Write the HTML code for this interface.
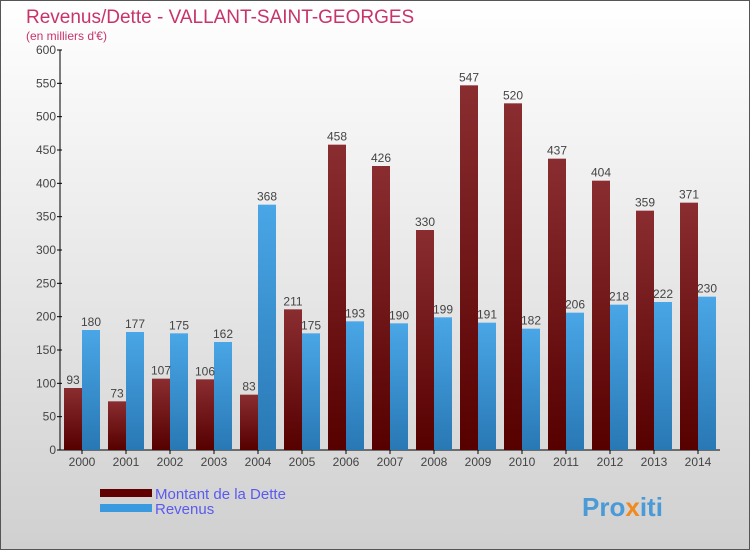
<!DOCTYPE html>
<html><head><meta charset="utf-8"><style>
body{margin:0}
svg{display:block;font-family:"Liberation Sans",sans-serif}
</style></head><body>
<svg width="750" height="550" viewBox="0 0 750 550">
<defs>
<linearGradient id="bg" x1="0" y1="0" x2="0" y2="1"><stop offset="0" stop-color="#ffffff"/><stop offset="1" stop-color="#d0d0d0"/></linearGradient>
<linearGradient id="gd" x1="0" y1="0" x2="0" y2="1"><stop offset="0" stop-color="#8a2d30"/><stop offset="1" stop-color="#560000"/></linearGradient>
<linearGradient id="gr" x1="0" y1="0" x2="0" y2="1"><stop offset="0" stop-color="#4aa6e6"/><stop offset="1" stop-color="#2878b4"/></linearGradient>
</defs>
<rect x="0.5" y="0.5" width="749" height="549" fill="url(#bg)" stroke="#555"/>
<text x="26" y="23" font-size="19" fill="#c8336a">Revenus/Dette - VALLANT-SAINT-GEORGES</text>
<text x="26" y="40" font-size="12" fill="#c8336a">(en milliers d'€)</text>
<g id="axes"></g>
<g id="bars"></g>
<g>
<rect x="100" y="489" width="52" height="8" fill="#600000"/>
<text x="155" y="499" font-size="15" fill="#5a5af0">Montant de la Dette</text>
<rect x="100" y="504" width="52" height="8" fill="#3a9ae0"/>
<text x="155" y="514" font-size="15" fill="#5a5af0">Revenus</text>
</g>
<text x="582" y="516" font-size="26" font-weight="bold" fill="#4a9ad8">Pro<tspan fill="#f08a20">x</tspan>iti</text>
</svg>
<script>
const years=["2000","2001","2002","2003","2004","2005","2006","2007","2008","2009","2010","2011","2012","2013","2014"];
const dette=[93,73,107,106,83,211,458,426,330,547,520,437,404,359,371];
const revenus=[180,177,175,162,368,175,193,190,199,191,182,206,218,222,230];
const yTicks=[0,50,100,150,200,250,300,350,400,450,500,550,600];
const NS="http://www.w3.org/2000/svg";
const x0=60,x1=720,yb=450,yt=50,ymax=600;
const gw=(x1-x0)/years.length;
function y(v){return yb-(v/ymax)*(yb-yt);}
function mk(t,a,p){const e=document.createElementNS(NS,t);for(const k in a)e.setAttribute(k,a[k]);p.appendChild(e);return e;}
const ax=document.getElementById('axes'),bg=document.getElementById('bars');
const yl=mk('line',{x1:x0,y1:yt,x2:x0,y2:yb,stroke:'#000'},ax);


const xl=mk('line',{x1:x0,y1:yb,x2:x1,y2:yb,stroke:'#000'},ax);


yTicks.forEach(v=>{
 mk('line',{x1:x0-3,y1:y(v),x2:x0+2,y2:y(v),stroke:'#000'},ax);
 const t=mk('text',{x:x0-4,y:y(v)+4,'font-size':12,'text-anchor':'end',fill:'#444'},ax);
 t.textContent=v;
 
 
});
years.forEach((yr,i)=>{
 const c=x0+gw*(i+0.5);
 mk('line',{x1:c,y1:yb,x2:c,y2:yb+4,stroke:'#000'},ax);
 const t=mk('text',{x:c,y:yb+16,'font-size':12,'text-anchor':'middle',fill:'#444'},ax);
 t.textContent=yr;
 
 
 const bw=18;
 const d=mk('rect',{x:c-bw,y:y(dette[i]),width:bw,height:yb-y(dette[i]),fill:'url(#gd)'},bg);
 
 
 const r=mk('rect',{x:c,y:y(revenus[i]),width:bw,height:yb-y(revenus[i]),fill:'url(#gr)'},bg);
 
 
 const td=mk('text',{x:c-bw/2,y:y(dette[i])-4,'font-size':12,'text-anchor':'middle',fill:'#444'},bg);
 td.textContent=dette[i];
 
 
 const tr=mk('text',{x:c+bw/2,y:y(revenus[i])-4,'font-size':12,'text-anchor':'middle',fill:'#444'},bg);
 tr.textContent=revenus[i];
 
 
});
</script>
</body></html>
